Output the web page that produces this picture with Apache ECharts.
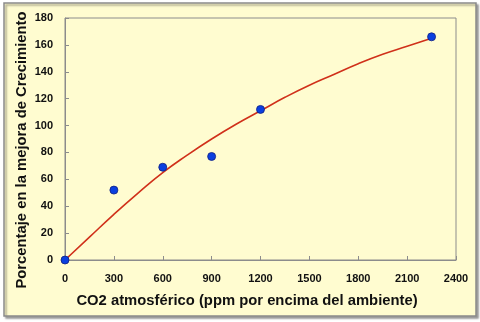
<!DOCTYPE html>
<html><head><meta charset="utf-8">
<script src="https://cdn.jsdelivr.net/npm/echarts@6/dist/echarts.min.js"></script>
<style>html,body{margin:0;padding:0;background:#fff;}#c{width:480px;height:322px;}</style>
</head><body><div id="c"></div>
<script>
var xTitle = 'CO2 atmosférico (ppm por encima del ambiente)';
var yTitle = 'Porcentaje en la mejora de Crecimiento';
var obsX = [0, 300, 600, 900, 1200, 2250];
var obsY = [0, 52, 69, 77, 112, 166];
var fitX = [0, 150, 300, 450, 600, 750, 900, 1050, 1200, 1350, 1500, 1650, 1800, 1950, 2100, 2250];
var fitY = [0, 17, 34, 50, 65, 78, 90, 101, 111, 121, 130, 138, 146, 153, 159, 165];

var chart = echarts.init(document.getElementById('c'));
chart.setOption({
  animation: false,
  backgroundColor: '#ffffff',
  graphic: [{
    type: 'rect', z: -10,
    shape: {x: 4, y: 3, width: 472, height: 313},
    style: {fill: '#FFFCD0', stroke: '#8a8a8a', lineWidth: 1.5, shadowColor: 'rgba(0,0,0,0.35)', shadowOffsetX: 2, shadowOffsetY: 2, shadowBlur: 2}
  }, {
    type: 'text', x: 247, y: 301, z: 10,
    style: {text: xTitle, font: 'bold 14.8px "Liberation Sans"', fill: '#111', align: 'center', verticalAlign: 'middle'}
  }, {
    type: 'text', x: 22, y: 150, rotation: Math.PI / 2, z: 10,
    style: {text: yTitle, font: 'bold 14.8px "Liberation Sans"', fill: '#111', align: 'center', verticalAlign: 'middle'}
  }],
  grid: {left: 65, right: 24, top: 18, bottom: 62, show: true, borderColor: '#8c8c8c', borderWidth: 1, backgroundColor: 'transparent'},
  xAxis: {
    type: 'value', min: 0, max: 2400, interval: 300,
    axisLine: {lineStyle: {color: '#8c8c8c'}},
    axisTick: {inside: true, length: 4, lineStyle: {color: '#8c8c8c'}},
    axisLabel: {fontFamily: 'Liberation Sans', fontWeight: 'bold', fontSize: 11, color: '#111', margin: 13,
      formatter: function(v){ return String(v); }},
    splitLine: {show: false}
  },
  yAxis: {
    type: 'value', min: 0, max: 180, interval: 20,
    axisLine: {lineStyle: {color: '#8c8c8c'}},
    axisTick: {inside: true, length: 4, lineStyle: {color: '#8c8c8c'}},
    axisLabel: {fontFamily: 'Liberation Sans', fontWeight: 'bold', fontSize: 11, color: '#111', margin: 12,
      formatter: function(v){ return String(v); }},
    splitLine: {show: false}
  },
  series: [{
    type: 'line', data: fitX.map(function(x, i){ return [x, fitY[i]]; }),
    smooth: true, showSymbol: false, lineStyle: {color: '#D0301A', width: 1.6}, z: 2
  }, {
    type: 'scatter', data: obsX.map(function(x, i){ return [x, obsY[i]]; }),
    symbolSize: 8, itemStyle: {color: '#0A3FE0', borderColor: '#102080', borderWidth: 0.8, opacity: 1}, z: 3
  }]
});
</script></body></html>
